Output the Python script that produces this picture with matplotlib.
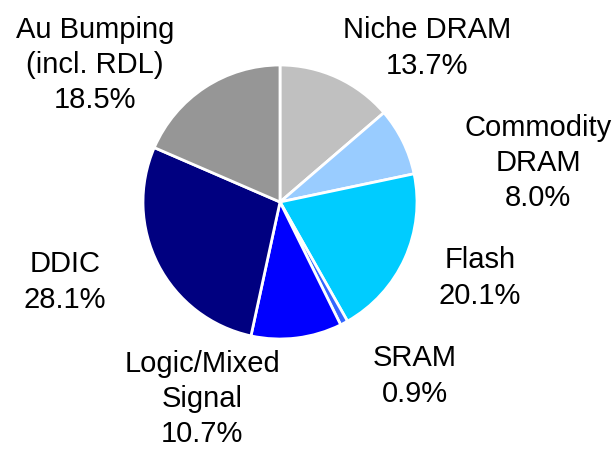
import matplotlib
matplotlib.use("Agg")
import matplotlib.pyplot as plt

categories = ["Niche DRAM", "Commodity\nDRAM", "Flash", "SRAM",
              "Logic/Mixed\nSignal", "DDIC", "Au Bumping\n(incl. RDL)"]
shares = [13.7, 8.0, 20.1, 0.9, 10.7, 28.1, 18.5]
colors = ["#C0C0C0", "#99CCFF", "#00CCFF", "#3366FF", "#0000FF", "#000080", "#969696"]

# label centre positions in pixels (x, y from top)
label_px = [(427, 48), (538, 163), (480, 278), (415, 376), (202, 399), (65, 282), (95, 65)]

W, H = 616, 451
fig = plt.figure(figsize=(W / 100, H / 100), dpi=100)
cx, cy, r = 280, 202, 137
ax = fig.add_axes([(cx - r) / W, (H - cy - r) / H, 2 * r / W, 2 * r / H])
ax.pie(shares, colors=colors, startangle=90, counterclock=False, radius=1,
       wedgeprops=dict(edgecolor="white", linewidth=2))
ax.set_xlim(-1, 1)
ax.set_ylim(-1, 1)
ax.set_aspect("equal")
ax.axis("off")

for cat, val, (px, py) in zip(categories, shares, label_px):
    fig.text(px / W, 1 - py / H, f"{cat}\n{val:.1f}%", ha="center", va="center",
             fontsize=21, family="Liberation Sans", linespacing=1.34, color="black")

fig.savefig("out.png", dpi=100)
